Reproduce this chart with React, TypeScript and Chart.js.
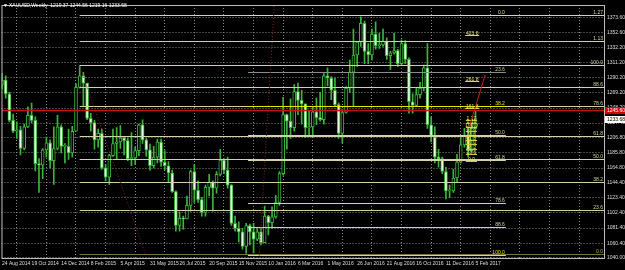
import React, { useEffect, useRef } from 'react';
import { Chart, registerables } from 'chart.js';
Chart.register(...registerables);

// Weekly XAUUSD candles, first week = 24 Aug 2014, last = 5 Feb 2017
const OPEN = [1280,1287,1268,1231,1216,1218,1192,1222,1238,1231,1171,1169,1190,1200,1175,1192,1222,1195,1195,
1186,1216,1277,1293,1283,1234,1228,1204,1213,1165,1152,1182,1199,1201,1207,1203,1178,1179,1189,1225,1204,1190,1168,1180,1201,1173,1168,1158,1132,1085,1095,1094,1113,1160,1134,1121,1103,1138,1145,1137,1156,1176,1162,1141,1088,1081,1076,1056,1085,1076,1066,1076,
1061,1098,1089,1097,1117,1157,1239,1230,1221,1271,1259,1254,1221,1222,1243,1235,1232,1293,1290,1273,1253,1213,1242,1276,1298,1322,1340,1366,1327,1322,1351,1335,1336,1341,1321,1325,1328,1310,1338,1316,1257,1252,1267,1276,1304,1225,1208,1180,1178,1160,1133,1133,
1151,1173,1197,1210,1189,1219.37];
const HIGH = [1296,1293,1270,1240,1229,1223,1226,1250,1255,1236,1178,1192,1208,1204,1222,1238,1225,1199,1219,
1223,1282,1307,1298,1283,1241,1231,1219,1219,1170,1184,1219,1221,1224,1209,1206,1214,1194,1226,1232,1206,1198,1195,1205,1205,1189,1174,1162,1133,1104,1098,1126,1162,1170,1147,1124,1141,1156,1147,1160,1191,1178,1180,1142,1098,1090,1081,1088,1087,1088,1081,1082,
1112,1099,1111,1127,1160,1263,1240,1261,1281,1283,1273,1254,1244,1250,1262,1270,1296,1304,1292,1290,1255,1246,1278,1315,1358,1341,1375,1369,1338,1358,1368,1352,1358,1346,1327,1352,1330,1343,1342,1318,1268,1276,1284,1308,1338,1236,1222,1191,1180,1166,1141,1163,
1184,1207,1220,1219,1226,1244.56];
const LOW = [1275,1262,1229,1214,1206,1183,1190,1221,1228,1161,1131,1150,1180,1165,1142,1190,1186,1172,1177,
1180,1216,1276,1250,1232,1216,1191,1194,1163,1147,1142,1181,1178,1192,1183,1175,1168,1170,1182,1199,1181,1162,1165,1172,1167,1162,1146,1131,1077,1077,1080,1094,1105,1117,1117,1098,1098,1126,1105,1130,1154,1157,1137,1085,1077,1062,1052,1046,1058,1047,1064,1058,
1061,1072,1081,1095,1113,1155,1191,1206,1216,1239,1226,1207,1208,1210,1225,1230,1226,1279,1260,1250,1206,1200,1241,1270,1250,1306,1334,1310,1310,1315,1330,1331,1334,1316,1302,1323,1306,1308,1310,1241,1241,1250,1262,1272,1220,1201,1172,1166,1157,1122,1124,1131,
1146,1172,1194,1180,1187,1219.16];
const CLOSE = [1287,1268,1231,1216,1218,1192,1222,1238,1231,1171,1169,1190,1200,1175,1192,1222,1195,1195,1186,
1216,1277,1293,1283,1234,1228,1204,1213,1165,1152,1182,1199,1201,1207,1203,1178,1179,1189,1225,1204,1190,1168,1180,1201,1173,1168,1158,1132,1085,1095,1094,1113,1160,1134,1121,1103,1138,1145,1137,1156,1176,1162,1141,1088,1081,1076,1056,1085,1076,1066,1076,1061,
1098,1089,1097,1117,1157,1239,1230,1221,1271,1259,1254,1221,1222,1243,1235,1232,1293,1290,1273,1253,1213,1242,1276,1298,1322,1340,1366,1327,1322,1351,1335,1336,1341,1321,1325,1328,1310,1338,1316,1257,1252,1267,1276,1304,1225,1208,1180,1178,1160,1133,1133,1151,
1173,1197,1210,1189,1220,1233.68];

const DATE_LABELS = ['24 Aug 2014','19 Oct 2014','14 Dec 2014','8 Feb 2015','5 Apr 2015','31 May 2015','26 Jul 2015','20 Sep 2015','15 Nov 2015','10 Jan 2016','6 Mar 2016','1 May 2016','26 Jun 2016','21 Aug 2016','16 Oct 2016','11 Dec 2016','5 Feb 2017'];
const GRID_WEEKS = [0,8,16,24,32,40,48,56,64,72,80,88,96,104,112,120,128,136,144,152,160];
const Y_TICKS = [1373.6,1352.6,1332.2,1311.2,1290.2,1269.2,1248.2,1227.4,1206.8,1185.8,1164.8,1144.4,1123.4,1102.4,1081.4,1060.4,1040.0];

const FIB1_LABELS = ['0.0','23.6','38.2','50.0','61.8','78.6','88.6','100.0','1.13','1.27'];
const FIB1_PRICES = [1045,1107,1145,1177,1209,1251,1277,1308,1342,1377.5];
const FIB1_FROM = 21;
const FIB1_COLORS = ['#74743e','#d2d2a4','#d2d2a4','#d2d2a4','#d2d2a4','#d2d2a4','#d2d2a4','#d2d2a4','#d2d2a4','#d2d2a4'];

const FIB2_LABELS = ['0.0','23.6','38.2','50.0','61.8','78.6','88.6','100.0'];
const FIB2_PRICES = [1377,1298,1251.5,1211,1175.5,1116.5,1082.5,1044.5];
const FIB2_FROM = 66.5;
const FIB2_TO = 136.2;
const FIB2_COLORS = ['#dcdcaa','#8c8c8c','#e8e800','#d2d2a4','#d2d2a4','#d2d2a4','#d2d2a4','#e8e800'];

const EXT_LABELS = ['423.6','261.8','161.8'];
const EXT_PRICES = [1350,1286,1248];
const LADDER_LABELS = ['1.27','1.13','100.0','88.6','78.6','61.8','50.0','38.2','23.6','0.0'];
const LADDER_PRICES = [1232,1227,1222,1216,1210,1204,1198,1192,1184,1174];

const TREND_A = [[21, 1307], [38.7, 1046]];
const TREND_B = [[69.5, 1039], [73.6, 1390]];
const TREND_C = [[126.3, 1222], [130.6, 1294]];

const RED_LEVEL = 1245.6;
const BID = 1233.68;
const HEADER = 'XAUUSD,Weekly  1219.37 1244.56 1219.16 1233.68';

const FONT = '"Liberation Sans", Arial, sans-serif';
const CANDLE = '#3cb43c';

const overlay = {
  id: 'mt4overlay',
  afterDatasetsDraw(chart: any) {
    const { ctx, chartArea: a, scales } = chart;
    const xs = scales.x, ys = scales.y;
    const px = (w: number) => xs.getPixelForValue(w);
    const py = (p: number) => Math.round(ys.getPixelForValue(p)) + 0.5;
    ctx.save();
    ctx.beginPath();
    ctx.rect(a.left, a.top, a.right - a.left, a.bottom - a.top);
    ctx.clip();
    ctx.font = `5px ${FONT}`;
    ctx.textBaseline = 'alphabetic';
    ctx.lineWidth = 1;
    // fib set 1
    FIB1_PRICES.forEach((p, i) => {
      const y = py(p);
      ctx.strokeStyle = FIB1_COLORS[i];
      ctx.beginPath(); ctx.moveTo(px(FIB1_FROM), y); ctx.lineTo(a.right, y); ctx.stroke();
      ctx.fillStyle = i === 0 ? '#b4b46a' : FIB1_COLORS[i];
      ctx.textAlign = 'right';
      ctx.fillText(FIB1_LABELS[i], a.right - 2, y - 1.5);
    });
    // fib set 2
    FIB2_PRICES.forEach((p, i) => {
      const y = py(p);
      ctx.strokeStyle = FIB2_COLORS[i];
      ctx.beginPath(); ctx.moveTo(px(FIB2_FROM), y); ctx.lineTo(px(FIB2_TO), y); ctx.stroke();
      ctx.fillStyle = i === 1 ? '#c8c8a0' : FIB2_COLORS[i];
      ctx.textAlign = 'right';
      ctx.fillText(FIB2_LABELS[i], px(FIB2_TO) - 1, y - 1.5);
    });
    // extension labels
    EXT_PRICES.forEach((p, i) => {
      const y = py(p);
      ctx.strokeStyle = '#d8d860';
      ctx.beginPath(); ctx.moveTo(px(125.2), y); ctx.lineTo(px(129), y); ctx.stroke();
      ctx.fillStyle = '#e0e070';
      ctx.textAlign = 'center';
      ctx.fillText(EXT_LABELS[i], px(127.1), y - 1);
    });
    // small ladder
    LADDER_PRICES.forEach((p, i) => {
      const y = py(p);
      ctx.strokeStyle = '#cccc40';
      ctx.beginPath(); ctx.moveTo(px(125.4), y); ctx.lineTo(px(128.4), y); ctx.stroke();
      ctx.fillStyle = '#e4e460';
      ctx.textAlign = 'center';
      ctx.fillText(LADDER_LABELS[i], px(126.9), y - 0.5);
    });
    // red horizontal line
    const yr = py(RED_LEVEL);
    ctx.strokeStyle = '#c81414';
    ctx.lineWidth = 1.5;
    ctx.beginPath(); ctx.moveTo(a.left, yr); ctx.lineTo(a.right, yr); ctx.stroke();
    // trend lines
    const seg = (t: number[][], color: string, dash: number[], w: number) => {
      ctx.strokeStyle = color; ctx.lineWidth = w; ctx.setLineDash(dash);
      ctx.beginPath();
      ctx.moveTo(px(t[0][0]), ys.getPixelForValue(t[0][1]));
      ctx.lineTo(px(t[1][0]), ys.getPixelForValue(t[1][1]));
      ctx.stroke();
    };
    seg(TREND_A, '#8a2020', [1, 2], 1);
    seg(TREND_B, '#8a2020', [1, 2], 1);
    seg(TREND_C, '#c02020', [], 1);
    ctx.setLineDash([]);
    ctx.restore();

    // frame
    ctx.save();
    ctx.strokeStyle = '#bdbdbd';
    ctx.lineWidth = 1;
    ctx.strokeRect(a.left + 0.5, a.top + 0.5, a.right - a.left - 1, a.bottom - a.top - 1);
    // axis price boxes
    ctx.font = `5px ${FONT}`;
    ctx.textAlign = 'left';
    ctx.textBaseline = 'middle';
    const yR = ys.getPixelForValue(RED_LEVEL);
    ctx.fillStyle = '#d40000';
    ctx.fillRect(a.right, Math.round(yR) - 3, 20, 7);
    ctx.fillStyle = '#ffffff';
    ctx.fillText(RED_LEVEL.toFixed(2), a.right + 2, Math.round(yR) + 0.5);
    const yB = ys.getPixelForValue(BID);
    ctx.fillStyle = '#ffffff';
    ctx.fillRect(a.right, Math.round(yB) - 3, 20, 7);
    ctx.fillStyle = '#000000';
    ctx.fillText(BID.toFixed(2), a.right + 2, Math.round(yB) + 0.5);
    // header
    ctx.fillStyle = '#ffffff';
    ctx.fillText('\u25BC', 3, 5.5);
    ctx.fillText(HEADER, 9, 5.5);
    ctx.restore();
  },
};

export default function App() {
  const ref = useRef<HTMLCanvasElement>(null);
  useEffect(() => {
    const canvas = ref.current;
    if (!canvas) return;
    const wickData = OPEN.map((_, i) => ({ x: i, y: [LOW[i], HIGH[i]] }));
    const bodyData = OPEN.map((o, i) => ({ x: i, y: [Math.min(o, CLOSE[i]), Math.max(o, CLOSE[i])] }));
    const bodyFill = OPEN.map((o, i) => (CLOSE[i] >= o ? '#000000' : '#e6fbe0'));
    const chart = new Chart(canvas, {
      type: 'bar',
      data: {
        datasets: [
          {
            data: bodyData as any,
            order: 0,
            grouped: false,
            barThickness: 3,
            minBarLength: 1,
            backgroundColor: bodyFill,
            borderColor: CANDLE,
            borderWidth: 1,
            borderSkipped: false,
          } as any,
          {
            data: wickData as any,
            order: 1,
            grouped: false,
            barThickness: 1,
            backgroundColor: CANDLE,
            borderWidth: 0,
          } as any,
        ],
      },
      options: {
        animation: false,
        responsive: true,
        maintainAspectRatio: false,
        layout: { padding: { top: 2, left: 0, right: 0, bottom: 0 } },
        plugins: { legend: { display: false }, tooltip: { enabled: false } },
        scales: {
          x: {
            type: 'linear',
            min: -0.135,
            max: 163.0,
            offset: false,
            afterBuildTicks: (s: any) => { s.ticks = GRID_WEEKS.map((v) => ({ value: v })); },
            afterFit: (s: any) => { s.height = 11; },
            ticks: {
              autoSkip: false,
              maxRotation: 0,
              align: 'start',
              padding: 2,
              color: '#dedede',
              font: { size: 5, family: FONT },
              callback: (v: any) => DATE_LABELS[Math.round(Number(v) / 8)] ?? '',
            },
            grid: { color: '#8a8a8a', drawTicks: false, lineWidth: 1 },
            border: { display: false, dash: [1, 2] },
          },
          y: {
            position: 'right',
            min: 1038.4,
            max: 1391.5,
            afterBuildTicks: (s: any) => { s.ticks = Y_TICKS.map((v) => ({ value: v })); },
            afterFit: (s: any) => { s.width = 20; },
            ticks: {
              autoSkip: false,
              padding: 2,
              color: '#dedede',
              font: { size: 5, family: FONT },
              callback: (v: any) => Number(v).toFixed(2),
            },
            grid: { color: '#8a8a8a', drawTicks: false, lineWidth: 1 },
            border: { display: false, dash: [1, 2] },
          },
        },
      } as any,
      plugins: [overlay],
    });
    return () => chart.destroy();
  }, []);
  return (
    <div style={{ position: 'fixed', left: 0, top: 0, width: 625, height: 270, background: '#000' }}>
      <canvas ref={ref} />
    </div>
  );
}
